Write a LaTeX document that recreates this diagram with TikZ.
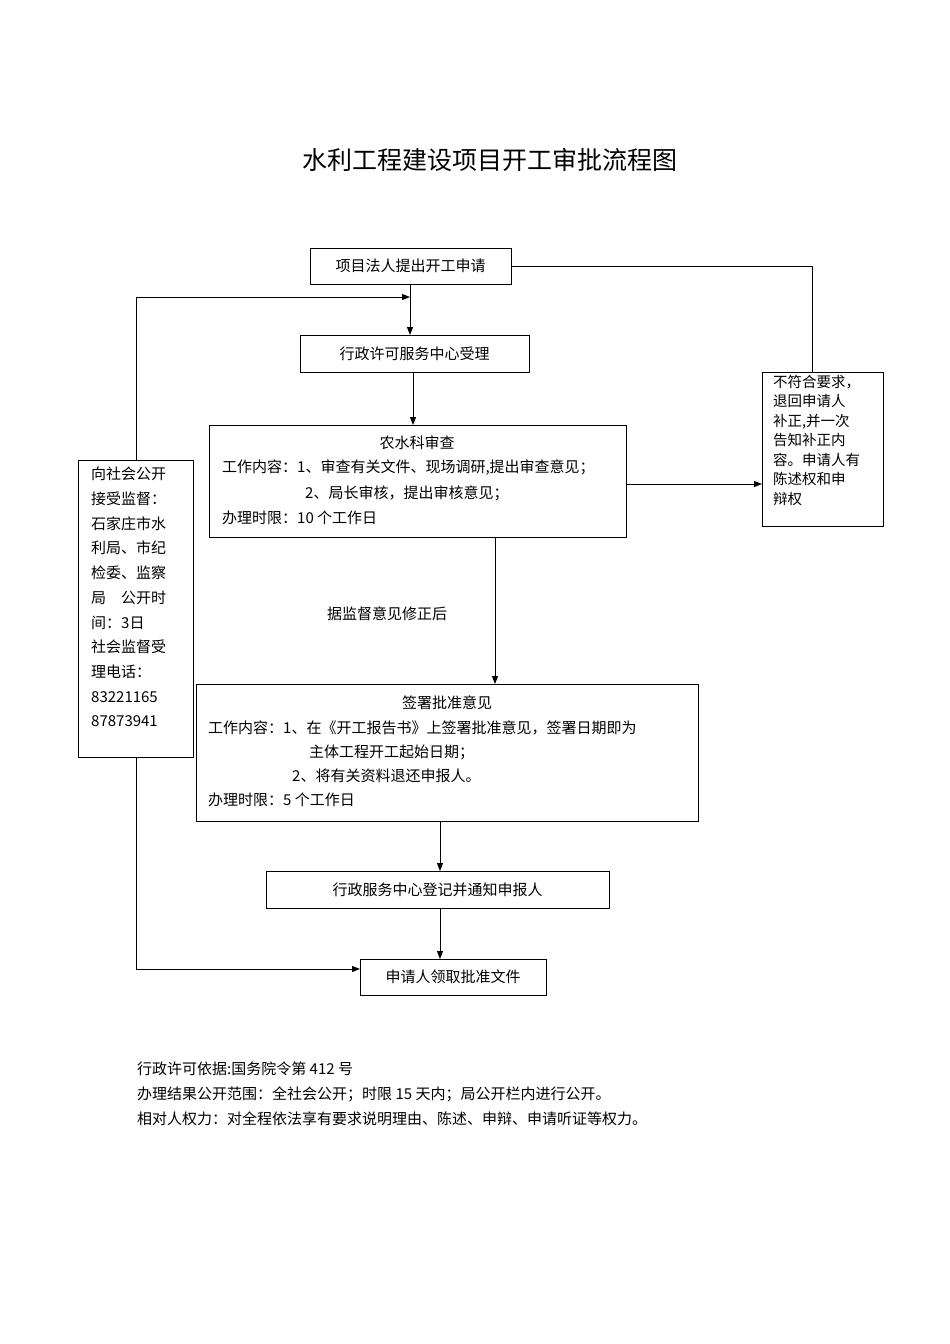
\documentclass[tikz,border=0pt]{standalone}
\usepackage{fontspec}
\setmainfont{Liberation Serif}
\newfontfamily\cjk{Noto Sans CJK SC}
\usetikzlibrary{arrows.meta}
\begin{document}
\begin{tikzpicture}[x=1pt,y=-1pt,
  box/.style={draw,line width=0.8pt},
  t/.style={font=\cjk\fontsize{15}{24}\selectfont,inner sep=0pt,anchor=west},
  ln/.style={line width=1pt},
  ar/.style={line width=1pt,-{Triangle[length=8pt,width=6pt]}}]
\useasboundingbox (0,0) rectangle (950,1344);
\node[font=\cjk\fontsize{25}{30}\selectfont] (title) at (490,160) {水利工程建设项目开工审批流程图};
\node[box,minimum width=201pt,minimum height=36pt,t,anchor=center] (A) at (410.5,266) {项目法人提出开工申请};
\node[box,minimum width=229pt,minimum height=37pt,t,anchor=center] (B) at (414.5,353.5) {行政许可服务中心受理};
\draw[box] (209,425) rectangle (626,537); \coordinate (C) at (417.5,481);
\node[t,anchor=center] (c1) at (417,443) {农水科审查};
\node[t] (c2) at (222,468) {工作内容：1、审查有关文件、现场调研,提出审查意见；};
\node[t] (c3) at (305,493) {2、局长审核，提出审核意见；};
\node[t] (c4) at (222,518) {办理时限：10 个工作日};
\draw[box] (762,372) rectangle (883,526);
\node[t,anchor=north west,align=left,font=\cjk\fontsize{14.5}{19.5}\selectfont] (R) at (773,375) {不符合要求，\\退回申请人\\补正,并一次\\告知补正内\\容。申请人有\\陈述权和申\\辩权};
\draw[box] (78,460) rectangle (193,757);
\node[t,anchor=north west,align=left,font=\cjk\fontsize{15}{24.7}\selectfont] (L) at (91,467) {向社会公开\\接受监督：\\石家庄市水\\利局、市纪\\检委、监察\\局\quad 公开时\\间：3日\\社会监督受\\理电话：\\83221165\\87873941};
\draw[box] (196,684) rectangle (698,821);
\node[t,anchor=center] (d1) at (447,703) {签署批准意见};
\node[t] (d2) at (208,728) {工作内容：1、在《开工报告书》上签署批准意见，签署日期即为};
\node[t] (d3) at (309,752) {主体工程开工起始日期；};
\node[t] (d4) at (292,776) {2、将有关资料退还申报人。};
\node[t] (d5) at (208,800) {办理时限：5 个工作日};
\node[box,minimum width=343pt,minimum height=37pt,t,anchor=center] (E) at (437.5,889.5) {行政服务中心登记并通知申报人};
\node[box,minimum width=186pt,minimum height=36pt,t,anchor=center] (F) at (453,977) {申请人领取批准文件};
\node[t,anchor=center] (m) at (387,614) {据监督意见修正后};
\draw[ln] (A.east) -- (812,266) -- (812,372);
\draw[ar] (410,284) -- (410,335);
\draw[ar] (136,460) -- (136,297) -- (410,297);
\draw[ar] (413,372) -- (413,425);
\draw[ar] (626,484) -- (762,484);
\draw[ar] (495,537) -- (495,684);
\draw[ar] (440,821) -- (440,871);
\draw[ar] (440,908) -- (440,959);
\draw[ar] (136,757) -- (136,969) -- (360,969);
\node[t] (n1) at (137,1069) {行政许可依据:国务院令第 412 号};
\node[t] (n2) at (137,1094) {办理结果公开范围：全社会公开；时限 15 天内；局公开栏内进行公开。};
\node[t] (n3) at (137,1119) {相对人权力：对全程依法享有要求说明理由、陈述、申辩、申请听证等权力。};
\end{tikzpicture}
\end{document}
